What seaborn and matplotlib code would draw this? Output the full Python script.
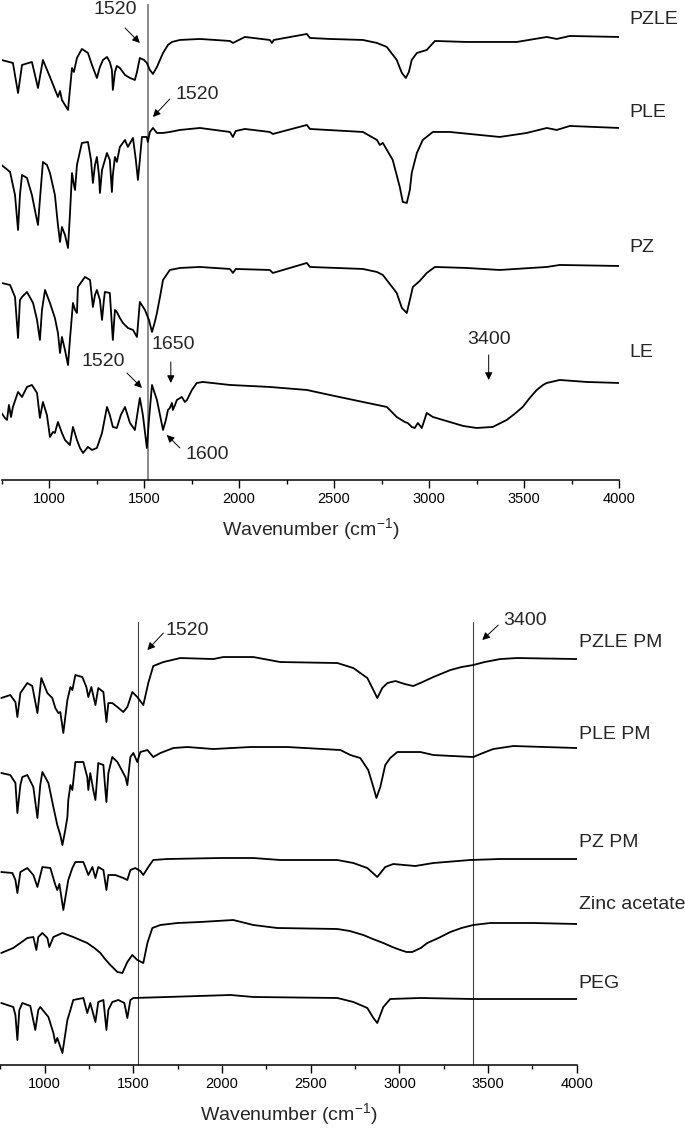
import numpy as np
import pandas as pd
import matplotlib
matplotlib.use("Agg")
import matplotlib.pyplot as plt
from matplotlib.ticker import MultipleLocator
import seaborn as sns

# FTIR spectra
# wavenumber (cm-1) and relative transmittance (a.u., 0 = plateau near 4000 cm-1)

# ---- upper panel ----
pzle_wn = [750, 810, 837, 858, 910, 942, 968, 1005, 1047, 1058, 1068, 1100, 1121, 1131, 1147,
           1173, 1205, 1226, 1252, 1268, 1284, 1305, 1320, 1331, 1336, 1347, 1357, 1373, 1400, 1426,
           1452, 1463, 1478, 1500, 1515, 1531, 1547, 1568, 1600, 1626, 1647, 1689, 1794, 1952, 1968,
           2031, 2162, 2173, 2183, 2357, 2373, 2478, 2652, 2726, 2778, 2830, 2857, 2878, 2894, 2909,
           2936, 2988, 3031, 3197, 3462, 3620, 3672, 3741, 4000]
pzle_t = [-23, -26, -56, -28, -25, -51, -23, -40, -60, -54, -63, -73, -31, -35, -21,
          -12, -16, -28, -41, -30, -23, -20, -25, -33, -53, -35, -29, -31, -38, -41,
          -43, -35, -21, -23, -26, -33, -37, -30, -16, -8, -5, -3, -2, -4, -6,
          0, -3, -6, -3, 3, -1, -2, -3, -6, -10, -23, -36, -41, -35, -23,
          -16, -13, -4, -5, -5, 0, -2, 1, 0]

ple_wn = [750, 795, 821, 837, 847, 858, 884, 910, 931, 942, 952, 968, 989, 1005, 1031,
          1047, 1058, 1068, 1084, 1100, 1110, 1121, 1131, 1137, 1147, 1173, 1205, 1221, 1231, 1242,
          1252, 1263, 1268, 1279, 1305, 1320, 1331, 1336, 1347, 1357, 1373, 1400, 1415, 1442, 1457,
          1468, 1478, 1489, 1515, 1520, 1531, 1547, 1568, 1600, 1636, 1689, 1794, 1952, 1968, 1983,
          2031, 2162, 2178, 2357, 2373, 2652, 2726, 2741, 2757, 2809, 2846, 2862, 2883, 2899, 2909,
          2936, 2967, 3020, 3109, 3372, 3514, 3620, 3672, 3741, 4000]
ple_t = [-37, -44, -67, -102, -67, -47, -50, -67, -87, -97, -72, -34, -37, -45, -67,
         -97, -114, -99, -107, -120, -87, -45, -57, -62, -37, -15, -14, -32, -55, -37,
         -29, -47, -65, -42, -25, -32, -64, -47, -29, -34, -19, -12, -19, -10, -32,
         -52, -32, -9, -9, -14, -4, 0, -5, -5, -4, -2, 0, -4, -9, -3,
         -1, -4, -6, 3, -1, -4, -12, -17, -15, -32, -59, -74, -75, -62, -45,
         -25, -12, -4, -4, -9, -5, 0, -2, 2, 0]

pz_wn = [750, 795, 821, 837, 847, 858, 884, 916, 937, 952, 963, 979, 1005, 1031, 1047,
         1058, 1068, 1084, 1100, 1110, 1126, 1137, 1147, 1152, 1189, 1216, 1231, 1242, 1252, 1268,
         1279, 1289, 1294, 1320, 1336, 1347, 1357, 1373, 1389, 1415, 1442, 1463, 1478, 1505, 1526,
         1542, 1557, 1568, 1584, 1600, 1636, 1689, 1794, 1952, 1968, 1983, 2162, 2178, 2357, 2373,
         2652, 2726, 2757, 2830, 2857, 2883, 2899, 2915, 2951, 2988, 3031, 3197, 3372, 3620, 3688,
         4000]
pz_t = [-17, -19, -31, -72, -34, -31, -26, -37, -54, -74, -44, -24, -37, -52, -67,
        -87, -71, -84, -99, -74, -37, -44, -47, -21, -11, -14, -41, -29, -24, -34,
        -54, -34, -26, -27, -74, -44, -46, -52, -57, -62, -64, -71, -36, -44, -54,
        -66, -56, -47, -31, -14, -4, -2, -1, -3, -7, -3, -4, -7, 3, -1,
        -3, -6, -9, -27, -42, -47, -34, -21, -15, -7, -1, -2, -4, -1, 1,
        0]

le_wn = [750, 768, 779, 789, 800, 810, 837, 858, 884, 910, 937, 952, 968, 989, 1005,
         1021, 1031, 1047, 1068, 1084, 1110, 1126, 1147, 1163, 1179, 1205, 1226, 1252, 1279, 1305,
         1320, 1336, 1357, 1378, 1400, 1426, 1452, 1478, 1494, 1515, 1526, 1542, 1568, 1584, 1600,
         1615, 1626, 1636, 1647, 1652, 1663, 1673, 1699, 1715, 1726, 1752, 1778, 1810, 1952, 2162,
         2357, 2478, 2652, 2778, 2830, 2872, 2888, 2909, 2925, 2941, 2962, 2988, 3020, 3109, 3180,
         3250, 3335, 3409, 3450, 3493, 3530, 3567, 3600, 3620, 3688, 3830, 4000]
le_t = [-30, -35, -37, -22, -34, -24, -9, -14, -4, -2, -10, -35, -19, -32, -54,
        -49, -50, -39, -50, -57, -62, -44, -57, -65, -70, -64, -67, -65, -50, -24,
        -32, -44, -45, -32, -24, -40, -47, -15, -32, -65, -37, -2, -17, -32, -47,
        -37, -27, -25, -20, -27, -22, -17, -14, -19, -17, -7, 0, 1, -2, -4,
        -7, -12, -19, -24, -34, -39, -40, -44, -45, -40, -45, -30, -34, -39, -43,
        -45, -44, -37, -31, -24, -15, -7, -2, 0, 3, 1, 0]

# ---- lower panel ----
pzlepm_wn = [755, 806, 835, 846, 863, 902, 930, 959, 981, 1015, 1043, 1060, 1077, 1088, 1105,
             1128, 1145, 1156, 1173, 1212, 1235, 1246, 1263, 1286, 1302, 1331, 1348, 1359, 1381, 1410,
             1443, 1466, 1494, 1522, 1556, 1584, 1612, 1669, 1765, 1951, 2007, 2176, 2328, 2650, 2740,
             2819, 2853, 2875, 2903, 2932, 2977, 3030, 3078, 3130, 3191, 3287, 3350, 3416, 3480, 3569,
             3664, 4000]
pzlepm_t = [-39, -36, -43, -58, -34, -24, -27, -54, -19, -34, -39, -49, -54, -53, -74,
            -41, -28, -31, -16, -18, -28, -38, -28, -46, -29, -33, -63, -44, -44, -48,
            -53, -48, -33, -38, -46, -24, -7, -3, 1, 0, 2, 2, -3, -4, -9,
            -19, -31, -39, -29, -24, -22, -25, -27, -23, -18, -11, -8, -6, -3, 0,
            1, 0]

plepm_wn = [755, 806, 835, 846, 863, 874, 902, 936, 959, 975, 987, 1021, 1049, 1071, 1088,
            1100, 1116, 1128, 1133, 1145, 1156, 1173, 1218, 1240, 1246, 1257, 1274, 1286, 1302, 1331,
            1342, 1348, 1359, 1381, 1410, 1455, 1466, 1483, 1500, 1522, 1539, 1579, 1612, 1652, 1725,
            1804, 1951, 2159, 2368, 2667, 2723, 2779, 2824, 2853, 2870, 2892, 2920, 2948, 2988, 3118,
            3191, 3300, 3416, 3470, 3529, 3642, 4000]
plepm_t = [-25, -27, -35, -65, -37, -29, -27, -39, -70, -37, -24, -35, -59, -77, -87,
           -97, -82, -69, -52, -37, -42, -14, -14, -29, -42, -25, -42, -52, -15, -17,
           -42, -54, -25, -9, -14, -29, -37, -9, -5, -14, -4, -2, -9, -5, 0,
           1, -1, 1, 1, -2, -7, -10, -22, -39, -50, -39, -17, -10, -4, -4,
           -7, -8, -9, -5, -1, 2, 0]

pzpm_wn = [755, 818, 835, 846, 863, 902, 936, 959, 987, 1032, 1060, 1071, 1083, 1105, 1133,
           1156, 1173, 1218, 1240, 1246, 1269, 1286, 1302, 1331, 1348, 1359, 1398, 1443, 1466, 1483,
           1511, 1539, 1556, 1584, 1612, 1691, 1990, 2176, 2328, 2650, 2740, 2819, 2875, 2920, 2965,
           3089, 3191, 3399, 3569, 4000]
pzpm_t = [-13, -14, -21, -34, -13, -9, -16, -28, -8, -9, -26, -31, -25, -51, -21,
          -9, -3, -3, -13, -16, -8, -19, -8, -11, -31, -16, -16, -19, -21, -11,
          -9, -12, -16, -8, -1, 0, 1, 1, -1, -1, -4, -9, -18, -8, -5,
          -7, -4, -1, 0, 0]

zinc_wn = [755, 823, 902, 936, 953, 964, 987, 1015, 1026, 1049, 1100, 1161, 1200, 1240, 1280,
           1314, 1340, 1370, 1410, 1438, 1466, 1494, 1522, 1556, 1579, 1607, 1652, 1748, 1877, 2063,
           2176, 2311, 2650, 2720, 2796, 2850, 2909, 2960, 3005, 3040, 3072, 3120, 3157, 3220, 3287,
           3350, 3416, 3512, 3755, 4000]
zinc_t = [-29, -24, -14, -13, -26, -13, -9, -14, -23, -13, -9, -13, -16, -19, -24,
          -29, -35, -41, -48, -49, -38, -31, -36, -39, -19, -4, -1, 1, 2, 4,
          -1, -4, -5, -7, -11, -15, -19, -23, -26, -28, -28, -24, -19, -14, -8,
          -4, -1, 1, 1, 0]

peg_wn = [755, 823, 835, 846, 857, 874, 919, 947, 964, 975, 1021, 1049, 1060, 1071, 1100,
          1128, 1145, 1161, 1218, 1240, 1257, 1286, 1302, 1331, 1348, 1359, 1381, 1415, 1449, 1466,
          1483, 1500, 1691, 2047, 2176, 2650, 2740, 2819, 2853, 2875, 2909, 2948, 3118, 3411, 4000]
peg_t = [-4, -8, -16, -41, -11, -4, -7, -31, -11, -8, -18, -34, -44, -39, -54,
         -21, -11, -1, 1, -14, -4, -23, -3, -1, -31, -11, -3, -1, -4, -19,
         -1, 1, 2, 4, 2, 1, -3, -9, -19, -24, -8, 0, 1, 0, 0]

top_names = ["PZLE", "PLE", "PZ", "LE"]
top_wn = [pzle_wn, ple_wn, pz_wn, le_wn]
top_t = [pzle_t, ple_t, pz_t, le_t]

bottom_names = ["PZLE PM", "PLE PM", "PZ PM", "Zinc acetate", "PEG"]
bottom_wn = [pzlepm_wn, plepm_wn, pzpm_wn, zinc_wn, peg_wn]
bottom_t = [pzlepm_t, plepm_t, pzpm_t, zinc_t, peg_t]

# layout: vertical stacking of the traces
top_offsets = [-37, -128, -266, -383]
top_label_y = [-20, -113, -248, -353]
bottom_offsets = [-659, -748, -859, -924, -999]
bottom_label_y = [-642, -734, -842, -904, -984]

sns.set_theme(style="white")
plt.rcParams["font.family"] = ["Liberation Sans", "DejaVu Sans"]
plt.rcParams["mathtext.fontset"] = "custom"
plt.rcParams["mathtext.rm"] = "Liberation Sans"

fig = plt.figure(figsize=(6.85, 11.32), dpi=100)
ax1 = fig.add_axes([0.0022, 0.5760, 0.9015, 0.4205])
ax2 = fig.add_axes([0.0005, 0.0592, 0.8416, 0.3913])


def draw_panel(ax, names, wns, ts, offsets, label_y, label_x, ylim):
    frames = []
    for name, wn, t, off in zip(names, wns, ts, offsets):
        frames.append(pd.DataFrame({"wn": wn, "y": np.array(t) + off, "sample": name}))
    df = pd.concat(frames, ignore_index=True)
    sns.lineplot(data=df, x="wn", y="y", hue="sample", estimator=None, sort=False,
                 palette={n: "black" for n in names}, legend=False, lw=1.3,
                 solid_joinstyle="round", ax=ax)
    for name, y in zip(names, label_y):
        ax.text(label_x, y, name, fontsize=14, ha="left", va="center", clip_on=False)
    ax.set_xlim(750, 4000)
    ax.set_ylim(*ylim)
    ax.set_yticks([])
    ax.set_ylabel("")
    ax.set_xlabel(r"Wavenumber (cm$^{\mathregular{-1}}$)", fontsize=14, labelpad=7)
    ax.xaxis.set_major_locator(MultipleLocator(500))
    ax.xaxis.set_minor_locator(MultipleLocator(250))
    ax.tick_params(axis="x", which="both", bottom=True, direction="out", colors="black",
                   labelsize=10.5, width=1)
    ax.tick_params(axis="x", which="major", length=6, pad=3)
    ax.tick_params(axis="x", which="minor", length=3)
    for s in ["left", "top", "right"]:
        ax.spines[s].set_visible(False)
    ax.spines["bottom"].set_color("black")
    ax.spines["bottom"].set_linewidth(1.1)
    ax.patch.set_alpha(0)


def note(ax, text, xy_text, tail, head):
    ax.text(xy_text[0], xy_text[1], text, fontsize=14, ha="center", va="center")
    ax.annotate("", xy=head, xytext=tail,
                arrowprops=dict(arrowstyle="-|>", color="black", lw=0.7, mutation_scale=11,
                                shrinkA=0, shrinkB=0))


draw_panel(ax1, top_names, top_wn, top_t, top_offsets, top_label_y, 4056, (-480, -4))
draw_panel(ax2, bottom_names, bottom_wn, bottom_t, bottom_offsets, bottom_label_y, 4010, (-1065, -622))

ax1.axvline(1521, color="#8a8a8a", lw=1.4, zorder=0)
ax2.axvline(1526, color="#444444", lw=0.8, zorder=0)
ax2.axvline(3415, color="#444444", lw=0.8, zorder=0)

# annotations, upper panel
note(ax1, "1520", (1347, -10), (1400, -28), (1478, -43))
note(ax1, "1520", (1778, -95), (1636, -99), (1547, -117))
note(ax1, "1520", (1284, -362), (1410, -373), (1489, -388))
note(ax1, "1650", (1652, -345), (1641, -362), (1641, -383))
note(ax1, "1600", (1831, -455), (1689, -448), (1620, -435))
note(ax1, "3400", (3314, -340), (3314, -355), (3314, -380))

# annotations, lower panel
note(ax2, "1520", (1804, -630), (1669, -633), (1579, -650))
note(ax2, "3400", (3709, -620), (3557, -625), (3467, -640))

fig.savefig("out.png", dpi=100)
